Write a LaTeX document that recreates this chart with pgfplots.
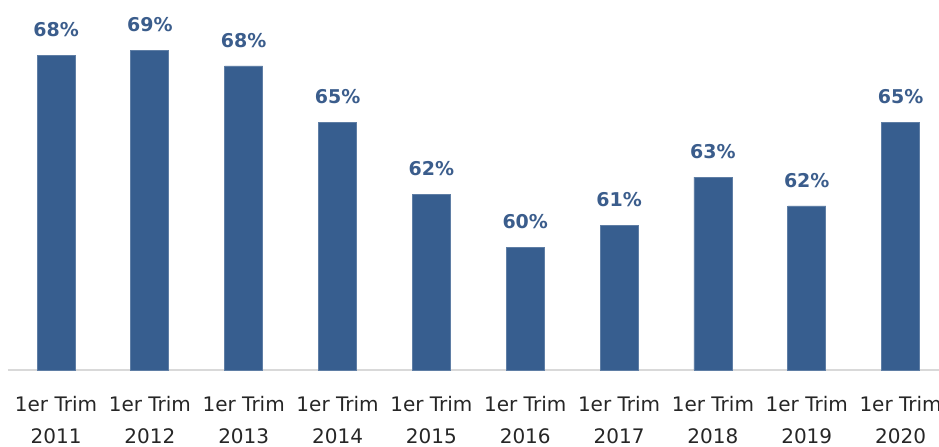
\documentclass[border=0pt]{standalone}
\usepackage{pgfplots}
\pgfplotsset{compat=1.18}
\usepackage{fontspec}
\setmainfont{DejaVu Sans}
\definecolor{barblue}{RGB}{55,94,143}
\definecolor{lblblue}{RGB}{59,93,140}
\definecolor{axisgray}{RGB}{217,217,217}

\begin{document}
\begin{tikzpicture}
  \begin{axis}[
    at={(4pt,38pt)}, anchor=south west,
    scale only axis,
    width=469.76pt, height=185pt,
    xmin=-0.512, xmax=9.5,
    ymin=54.5, ymax=70.78,
    axis y line=none,
    axis x line*=bottom,
    x axis line style={axisgray, line width=0.9pt, -},
    xtick=data,
    xticklabels={1er Trim\\2011,1er Trim\\2012,1er Trim\\2013,1er Trim\\2014,1er Trim\\2015,
                 1er Trim\\2016,1er Trim\\2017,1er Trim\\2018,1er Trim\\2019,1er Trim\\2020},
    major tick length=0pt,
    xticklabel style={align=center, inner sep=0pt, yshift=-13pt,
      font=\fontsize{10}{16}\selectfont, text=black!85},
    ybar, bar width=19pt,
    nodes near coords={\pgfmathprintnumber[fixed,precision=0,assume math mode=true]{\pgfplotspointmeta}\%},
    every node near coord/.append style={font=\bfseries\fontsize{9.5}{11}\selectfont,
      text=lblblue, inner sep=0pt, yshift=9pt, anchor=south},
    clip=false,
  ]
  \addplot[fill=barblue, draw=barblue!80!white, line width=0.4pt] coordinates {
    (0,68.36) (1,68.58) (2,67.88) (3,65.41) (4,62.24)
    (5,59.91) (6,60.88) (7,62.99) (8,61.72) (9,65.41)
  };
  \end{axis}
  \pgfresetboundingbox
  \useasboundingbox (0,0) rectangle (469.5pt,223pt);
\end{tikzpicture}
\end{document}
